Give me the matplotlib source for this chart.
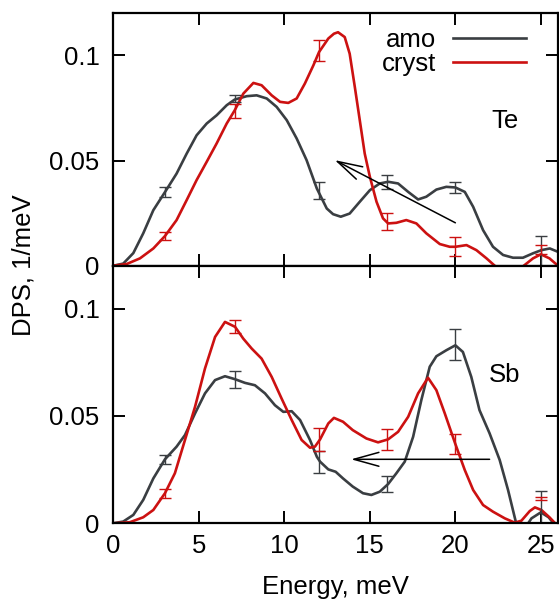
import matplotlib
matplotlib.use('Agg')
import matplotlib.pyplot as plt

plt.rcParams['font.family'] = ['Liberation Sans', 'DejaVu Sans']

# Te, amorphous / crystalline (energy in meV, DPS in 1/meV)
te_amo_e = [0, 0.58, 1.17, 1.75, 2.34, 3.02, 3.7, 4.29, 4.87, 5.46, 6.04, 6.63, 7.1, 7.8,
            8.38, 8.97, 9.55, 10.14, 10.72, 11.3, 11.9, 12.48, 12.85, 13.3, 13.82, 14.41,
            15.0, 15.58, 16.07, 16.65, 17.24, 17.82, 18.3, 18.89, 19.47, 20.0, 20.55, 21.04,
            21.62, 22.2, 22.79, 23.37, 23.95, 24.54, 25.03, 25.52, 26.0]
te_amo_dps = [0, 0.001, 0.006, 0.0154, 0.0264, 0.035, 0.0438, 0.0533, 0.062, 0.0676, 0.0715,
              0.0763, 0.079, 0.0806, 0.081, 0.0795, 0.0755, 0.0692, 0.0605, 0.0502, 0.0367,
              0.0272, 0.0245, 0.0233, 0.0248, 0.0304, 0.0359, 0.0391, 0.0399, 0.0391, 0.0351,
              0.0315, 0.0328, 0.0362, 0.0375, 0.0372, 0.0351, 0.028, 0.0169, 0.009, 0.0051,
              0.0038, 0.0038, 0.0059, 0.0074, 0.0082, 0.0066]

te_cry_e = [0, 0.78, 1.56, 2.34, 3.02, 3.7, 4.29, 4.87, 5.46, 6.04, 6.63, 7.1, 7.6, 8.19, 8.67,
            9.26, 9.75, 10.23, 10.72, 11.2, 11.7, 12.03, 12.57, 12.9, 13.14, 13.53, 13.82,
            14.12, 14.41, 14.7, 15.0, 15.39, 15.77, 16.07, 16.55, 17.13, 17.72, 18.3, 19.09,
            19.67, 20.0, 20.65, 21.23, 21.82, 22.3, 22.9, 23.5, 24.0, 24.54, 25.0, 25.5, 26.0]
te_cry_dps = [0, 0.0008, 0.0035, 0.0082, 0.0141, 0.0217, 0.0312, 0.0407, 0.0494, 0.0581,
              0.0676, 0.0739, 0.0818, 0.0869, 0.0858, 0.081, 0.0779, 0.0774, 0.0795, 0.0866,
              0.0953, 0.1016, 0.108, 0.1103, 0.111, 0.1087, 0.1008, 0.085, 0.0692, 0.0533,
              0.0423, 0.0304, 0.0225, 0.0201, 0.0204, 0.0217, 0.0201, 0.0154, 0.0103, 0.009,
              0.009, 0.0098, 0.0074, 0.0035, 0.0, -0.004, -0.003, 0.0, 0.0035, 0.0054, 0.0035, 0.0]

# Sb, amorphous / crystalline
sb_amo_e = [0, 0.58, 1.17, 1.75, 2.34, 3.02, 3.7, 4.19, 4.78, 5.36, 5.95, 6.53, 7.12, 7.7,
            8.28, 8.87, 9.45, 9.94, 10.43, 10.92, 11.5, 11.9, 12.09, 12.57, 13.0, 13.43, 14.0,
            14.6, 15.09, 15.58, 16.07, 16.55, 17.04, 17.53, 18.01, 18.5, 18.89, 19.47, 20.0,
            20.44, 20.93, 21.41, 22.0, 22.59, 23.08, 23.53, 24.0, 24.45, 25.0, 25.45, 25.74, 26.0]
sb_amo_dps = [0, 0.0008, 0.0039, 0.0109, 0.0209, 0.0298, 0.0357, 0.0411, 0.0512, 0.0605,
              0.0667, 0.0685, 0.0671, 0.0654, 0.0643, 0.0605, 0.055, 0.0519, 0.0522, 0.0481,
              0.0388, 0.031, 0.0287, 0.0251, 0.024, 0.0209, 0.0171, 0.014, 0.0132, 0.0147,
              0.0183, 0.0233, 0.0287, 0.0403, 0.0574, 0.0729, 0.0778, 0.0806, 0.0829, 0.0798,
              0.0682, 0.0527, 0.0419, 0.0295, 0.0155, 0.0008, -0.003, 0.0023, 0.0051, 0.0028,
              0.0, -0.002]

sb_cry_e = [0, 0.97, 1.75, 2.34, 3.02, 3.6, 4.19, 4.78, 5.36, 5.95, 6.53, 7.12, 7.6, 8.09,
            8.67, 9.26, 9.84, 10.43, 11.01, 11.5, 11.79, 12.09, 12.57, 12.9, 13.43, 14.0, 14.8,
            15.48, 16.07, 16.65, 17.24, 17.82, 18.4, 18.89, 19.38, 20.0, 20.55, 21.04, 21.62,
            22.2, 22.89, 23.47, 23.86, 24.35, 24.65, 25.03, 25.5, 25.8, 26.0]
sb_cry_dps = [0, 0.0005, 0.0028, 0.0062, 0.014, 0.0233, 0.0388, 0.0543, 0.0721, 0.0868,
              0.0938, 0.0915, 0.086, 0.0814, 0.0767, 0.0682, 0.0581, 0.0481, 0.0388, 0.0352,
              0.0357, 0.0391, 0.0465, 0.0491, 0.0473, 0.0434, 0.0395, 0.0377, 0.0391, 0.0426,
              0.0496, 0.0605, 0.0678, 0.062, 0.0512, 0.0369, 0.0248, 0.0155, 0.0085, 0.0054,
              0.0023, 0.0003, 0.0012, 0.0057, 0.0074, 0.0062, 0.0028, 0.0003, -0.001]

# error bars
err_e = [3, 7.1, 12, 16, 20, 25]
te_amo_val = [0.035, 0.0795, 0.0359, 0.0399, 0.0372, 0.007]
te_amo_err = [0.0022, 0.0018, 0.004, 0.0032, 0.0024, 0.007]
te_cry_val = [0.0141, 0.0735, 0.1022, 0.0209, 0.0092, 0.0078]
te_cry_err = [0.0017, 0.0035, 0.0049, 0.004, 0.0046, 0.002]
sb_amo_val = [0.0298, 0.0671, 0.0287, 0.0183, 0.0832, 0.0075]
sb_amo_err = [0.002, 0.0039, 0.0051, 0.0038, 0.0072, 0.0075]
sb_cry_val = [0.014, 0.0915, 0.0391, 0.0391, 0.0369, 0.0115]
sb_cry_err = [0.0021, 0.003, 0.0053, 0.0048, 0.0047, 0.0007]

# arrows (tail -> head)
te_arrow = [(20.0, 0.0204), (12.95, 0.0502)]
sb_arrow = [(22.0, 0.0298), (13.9, 0.0298)]

gray = '#3a3e42'
red = '#cc1111'
fs = 18.5

fig = plt.figure(figsize=(5.59, 5.99), dpi=100)
ax1 = fig.add_axes([0.2027, 0.5564, 0.7955, 0.4214])
ax2 = fig.add_axes([0.2027, 0.1264, 0.7955, 0.4301])


def panel(ax, amo_e, amo_d, cry_e, cry_d, amo_v, amo_er, cry_v, cry_er, arrow, name):
    ax.plot(amo_e, amo_d, color=gray, lw=1.9, label='amo', solid_joinstyle='round')
    ax.plot(cry_e, cry_d, color=red, lw=1.9, label='cryst', solid_joinstyle='round')
    ax.errorbar(err_e, amo_v, yerr=amo_er, fmt='none', ecolor=gray, elinewidth=1.0,
                capsize=4.2, capthick=1.0)
    ax.errorbar(err_e, cry_v, yerr=cry_er, fmt='none', ecolor=red, elinewidth=1.0,
                capsize=4.2, capthick=1.0)
    ax.annotate('', xy=arrow[1], xytext=arrow[0],
                arrowprops=dict(arrowstyle='->,head_length=0.9,head_width=0.25',
                                mutation_scale=20, color='black', lw=1.1,
                                shrinkA=0, shrinkB=0))
    ax.text(0.88, 0.575, name, transform=ax.transAxes, fontsize=fs, ha='center', va='center')
    ax.set_xlim(0, 26)
    ax.set_ylim(0, 0.12)
    ax.set_xticks([0, 5, 10, 15, 20, 25])
    ax.set_yticks([0, 0.05, 0.1])
    ax.set_yticklabels(['0', '0.05', '0.1'])
    ax.tick_params(direction='in', length=8.4, width=1.4, top=True, right=True,
                   labelsize=fs)
    ax.tick_params(axis='x', pad=8)
    ax.tick_params(axis='y', pad=10)
    for s in ax.spines.values():
        s.set_linewidth(1.6)


panel(ax1, te_amo_e, te_amo_dps, te_cry_e, te_cry_dps, te_amo_val, te_amo_err,
      te_cry_val, te_cry_err, te_arrow, 'Te')
panel(ax2, sb_amo_e, sb_amo_dps, sb_cry_e, sb_cry_dps, sb_amo_val, sb_amo_err,
      sb_cry_val, sb_cry_err, sb_arrow, 'Sb')

ax1.tick_params(labelbottom=False)
ax1.legend(loc='upper right', bbox_to_anchor=(0.929, 0.94), frameon=False,
           markerfirst=False, fontsize=fs, handlelength=2.85, handletextpad=0.66,
           labelspacing=0.0, borderpad=0, borderaxespad=0)

ax2.set_xlabel('Energy, meV', fontsize=fs, labelpad=12)
fig.text(23 / 559, 0.5576, 'DPS, 1/meV', rotation=90, fontsize=fs, ha='center', va='center')

fig.savefig('out.png', dpi=100)
